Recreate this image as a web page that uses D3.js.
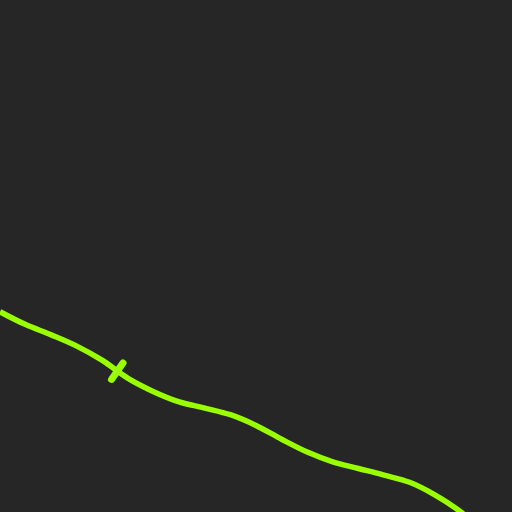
<!DOCTYPE html>
<meta charset="utf-8">
<style>
body { margin: 0; background: #262626; }
svg { display: block; }
</style>
<body>
<script src="https://d3js.org/d3.v7.min.js"></script>
<script>
var width = 512,
    height = 512;

// series
var xs = [0, 0.5, 1, 1.5, 2, 2.5, 3, 3.5, 4, 4.5, 5, 5.5, 6, 6.5, 7, 7.5, 8, 8.5, 9, 9.5, 10];
var ys = [39.1, 36.6, 34.6, 32.4, 29.6, 26.1, 23.5, 21.5, 20.3, 19.0, 16.9,
          14.2, 11.7, 9.8, 8.5, 7.2, 5.8, 3.3, 0, -4.5, -9.4];

// single highlighted point
var markX = [2.29];
var markY = [27.5];

var x = d3.scaleLinear().domain([0, 10]).range([0, width]);
var y = d3.scaleLinear().domain([0, 100]).range([height, 0]);

var svg = d3.select('body').append('svg')
    .attr('width', width)
    .attr('height', height);

svg.append('rect')
    .attr('width', width)
    .attr('height', height)
    .attr('fill', '#262626');

var data = xs.map(function(d, i) { return { x: d, y: ys[i] }; });

var line = d3.line()
    .x(function(d) { return x(d.x); })
    .y(function(d) { return y(d.y); })
    .curve(d3.curveCatmullRom);

svg.append('path')
    .datum(data)
    .attr('fill', 'none')
    .attr('stroke', '#99ff00')
    .attr('stroke-width', 5.5)
    .attr('d', line);

// marker: short tick across the curve
var marks = markX.map(function(d, i) { return { x: d, y: markY[i] }; });

svg.selectAll('.mark')
    .data(marks)
  .enter().append('line')
    .attr('class', 'mark')
    .attr('x1', -10).attr('y1', 0)
    .attr('x2', 10).attr('y2', 0)
    .attr('stroke', '#99ff00')
    .attr('stroke-width', 7)
    .attr('stroke-linecap', 'round')
    .attr('transform', function(d) {
      return 'translate(' + x(d.x) + ',' + y(d.y) + ') rotate(-55)';
    });
</script>
